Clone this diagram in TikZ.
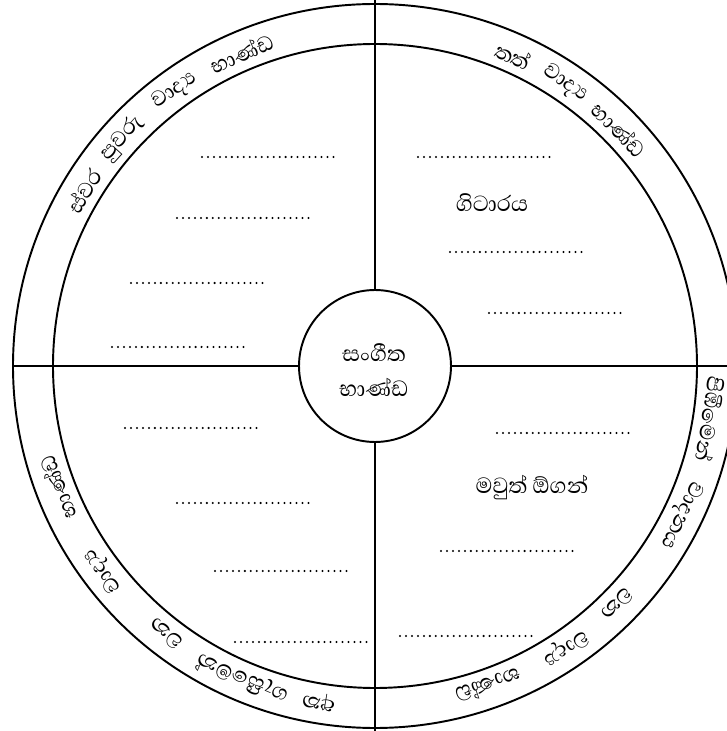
\documentclass[tikz,border=0pt]{standalone}
\usepackage{fontspec}
\newfontfamily\sinhalafont[Script=Sinhala]{Abhaya Libre}
\begin{document}
\begin{tikzpicture}[x=0.02cm,y=0.02cm,
  ring/.style={line width=1.1pt},
  dots/.style={line width=1.3pt, dash pattern=on 0pt off 3.4pt, line cap=round},
  arcword/.style={font=\sinhalafont\fontsize{15.5}{18}\selectfont, inner sep=0pt},
  lbl/.style={font=\sinhalafont\fontsize{16}{18}\selectfont, inner sep=0pt}]
\useasboundingbox (0,0) rectangle (727,731);
\coordinate (O) at (375,365);
\draw[ring] (O) circle (362);
\draw[ring] (O) circle (322);
\node[draw, circle, ring, minimum size=3.04cm, inner sep=0pt] (hub) at (O) {};
\node[lbl] (hubA) at (374,378) {සංගීත};
\node[lbl] (hubB) at (374,344) {භාණ්ඩ};
\coordinate (T) at (375,731);
\coordinate (B) at (375,0);
\coordinate (L) at (13,365);
\coordinate (R) at (737,365);
\draw[ring] (T) -- (hub.north);
\draw[ring] (hub.south) -- (B);
\draw[ring] (L) -- (hub.west);
\draw[ring] (hub.east) -- (R);
% arc words
\foreach \a/\w [count=\i] in {149/ස්වර, 138/පුවරු, 126/වාද්‍ය, 113/භාණ්ඩ,
   66/තත්, 56/වාද්‍ය, 44/භාණ්ඩ,
   -9/පිඹීමෙන්, -26/වාදනය, -44.5/වන, -56/වාද්‍ය, -70.5/භාණ්ඩ,
   -99.5/අත, -113/ගැසීමෙන්, -128/වන, -143/වාද්‍ය, -159/භාණ්ඩ}
  \node[arcword, rotate=\a-90] (w\i) at ([shift={(O)}]\a:340) {\w};
% labels
\node[lbl] (guitar) at (492,528) {ගිටාරය};
\node[lbl] (mouth) at (532,243) {මවුත් ඕගන්};
% dotted answer lines
\foreach \xa/\xb/\y [count=\j] in {202/336/574, 177/312/513, 131/266/448, 112/248/384,
   418/552/574, 450/585/479, 489/623/418,
   497/630/298, 441/575/180, 400/533/95,
   125/258/303, 177/311/228, 215/349/160, 235/368/89} {
  \coordinate (d\j a) at (\xa,\y);
  \coordinate (d\j b) at (\xb,\y);
  \draw[dots] (d\j a) -- (d\j b);
}
\end{tikzpicture}
\end{document}
